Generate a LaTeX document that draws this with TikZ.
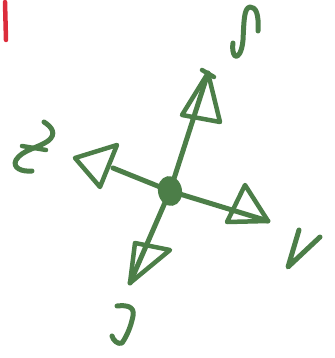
\documentclass[tikz,border=0pt]{standalone}
\usetikzlibrary{shapes.geometric}
\definecolor{sketch}{RGB}{76,126,72}
\definecolor{redmark}{RGB}{220,45,60}
\begin{document}
\begin{tikzpicture}[x=1pt,y=-1pt,
  pen/.style={draw=sketch,line width=5pt,line cap=round,line join=round},
  thin pen/.style={draw=sketch,line width=4.5pt,line cap=round,line join=round},
  hub/.style={ellipse,fill=sketch,minimum width=24pt,minimum height=30pt,inner sep=0pt,rotate=10}]
\useasboundingbox (0,0) rectangle (334,358);
% red mark
\draw[redmark,line width=4.5pt,line cap=round] (5,2) -- (6,40);
% center
\node[hub] (c) at (170,191) {};
\coordinate (tu) at (208,73);
\coordinate (tl) at (75,158);
\coordinate (tr) at (268,221);
\coordinate (td) at (130,283);
% shafts
\draw[pen] (c.center) -- (tu);
\draw[pen] (c.center) -- (113,168);
\draw[pen] (c.center) -- (tr);
\draw[pen] (c.center) -- (td);
% triangles
\draw[thin pen] (tu) -- (182,115) -- (220,122) -- cycle;
\draw[thin pen] (202,70) -- (214,77);
\draw[thin pen] (tl) -- (117,145) -- (100,187) -- cycle;
\draw[thin pen] (tr) -- (245,185) -- (227,222) -- cycle;
\draw[thin pen] (td) -- (135,243) -- (170,250) -- cycle;
% labels (hand-drawn glyphs)
\draw[pen] (258,31) .. controls (259,14) and (256,7) .. (250,7)
  .. controls (244,8) and (244,20) .. (243,40)
  .. controls (242,52) and (238,58) .. (235,56)
  .. controls (233,54) and (232,48) .. (233,43);
\draw[pen] (44,122) .. controls (52,127) and (57,134) .. (48,141)
  .. controls (38,148) and (22,150) .. (16,160)
  .. controls (12,168) and (22,172) .. (32,171);
\draw[thin pen] (22,146) -- (46,150);
\draw[pen] (299,230) -- (288,267) -- (320,237);
\draw[pen] (117,306) .. controls (126,305) and (135,306) .. (133,316)
  .. controls (131,326) and (127,336) .. (122,343)
  .. controls (118,345) and (113,340) .. (112,336);
\end{tikzpicture}
\end{document}
